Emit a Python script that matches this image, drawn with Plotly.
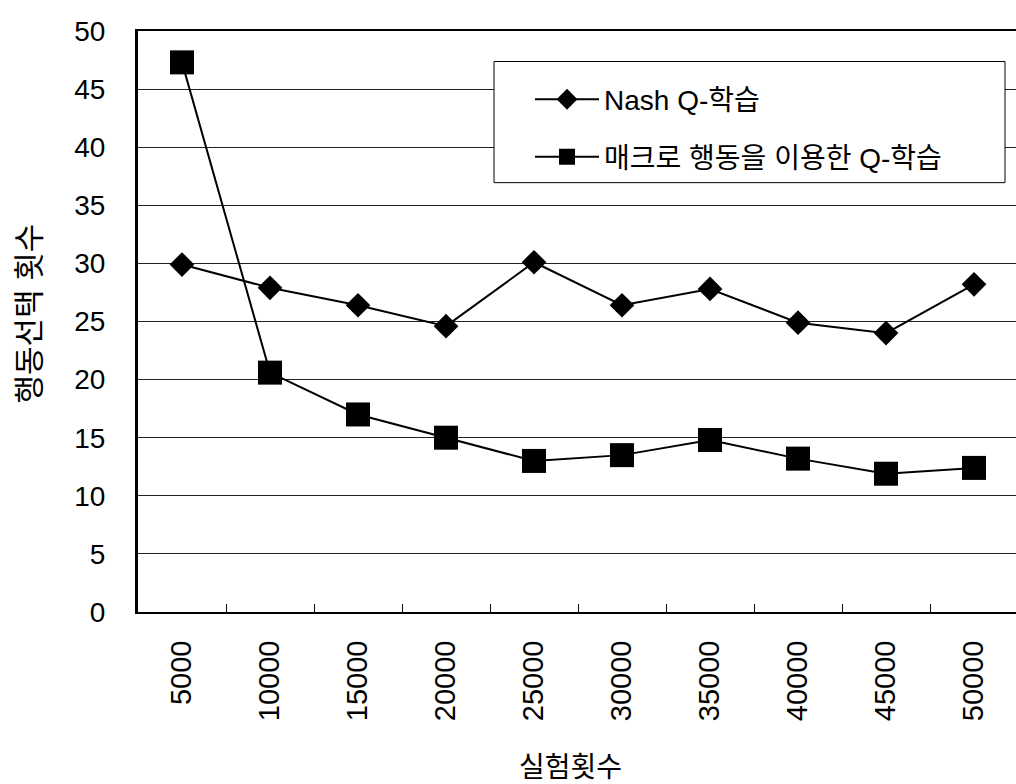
import plotly.graph_objects as go

# Number of trials (x categories)
trials = ["5000", "10000", "15000", "20000", "25000",
          "30000", "35000", "40000", "45000", "50000"]

# Action-selection counts per method
nash_q = [29.9, 27.9, 26.4, 24.6, 30.1, 26.4, 27.8, 24.9, 24.0, 28.2]
macro_q = [47.3, 20.6, 17.0, 15.0, 13.0, 13.5, 14.8, 13.2, 11.9, 12.4]

series_names = ["Nash Q-학습", "매크로 행동을 이용한 Q-학습"]
y_ticks = [0, 5, 10, 15, 20, 25, 30, 35, 40, 45, 50]

FONT = "Arial, 'Liberation Sans', 'Noto Sans CJK KR', sans-serif"

fig = go.Figure()
fig.add_trace(go.Scatter(
    x=trials, y=nash_q, name=series_names[0], mode="lines+markers",
    line=dict(color="black", width=2),
    marker=dict(symbol="diamond", size=19, color="black"),
    legendgroup="a",
))
fig.add_trace(go.Scatter(
    x=trials, y=macro_q, name=series_names[1], mode="lines+markers",
    line=dict(color="black", width=2),
    marker=dict(symbol="square", size=24, color="black"),
    legendgroup="b",
))

fig.update_layout(
    width=1016, height=784,
    margin=dict(l=138, r=0, t=31, b=172),
    paper_bgcolor="white", plot_bgcolor="white",
    font=dict(family=FONT, color="black"),
    showlegend=True,
    legend=dict(
        x=0.4465, y=0.925, xanchor="left", yanchor="top",
        bgcolor="rgba(0,0,0,0)", borderwidth=0,
        font=dict(size=28, family=FONT, color="black"),
        itemwidth=64, traceorder="grouped", tracegroupgap=18,
    ),
    # frame around the legend
    shapes=[dict(type="rect", xref="paper", yref="paper",
                 x0=0.4055, x1=0.9875, y0=0.739, y1=0.9475,
                 line=dict(color="black", width=1), fillcolor="white",
                 layer="above")],
    xaxis=dict(
        type="category", range=[-0.5, 9.477],
        showline=True, linecolor="black", linewidth=2, mirror=True,
        ticks="inside", tickson="boundaries", ticklen=8,
        tickcolor="black", tickwidth=1,
        tickangle=-90, tickfont=dict(size=29, family=FONT),
        ticklabelstandoff=15,
        showgrid=False, zeroline=False,
    ),
    yaxis=dict(
        range=[0, 50], tickvals=y_ticks,
        showline=True, linecolor="black", linewidth=3, mirror=False,
        ticks="", tickfont=dict(size=28, family=FONT),
        ticklabelstandoff=24,
        showgrid=True, gridcolor="#222222", gridwidth=1,
        zeroline=False,
    ),
    annotations=[
        dict(text="행동선택 횟수", textangle=-90, xref="paper", yref="paper",
             x=-0.124, y=0.514, xanchor="center", yanchor="middle",
             showarrow=False, font=dict(size=31, family=FONT)),
        dict(text="실험횟수", xref="paper", yref="paper",
             x=0.493, y=-0.268, xanchor="center", yanchor="middle",
             showarrow=False, font=dict(size=28, family=FONT)),
    ],
)

fig.write_html("out.html")
